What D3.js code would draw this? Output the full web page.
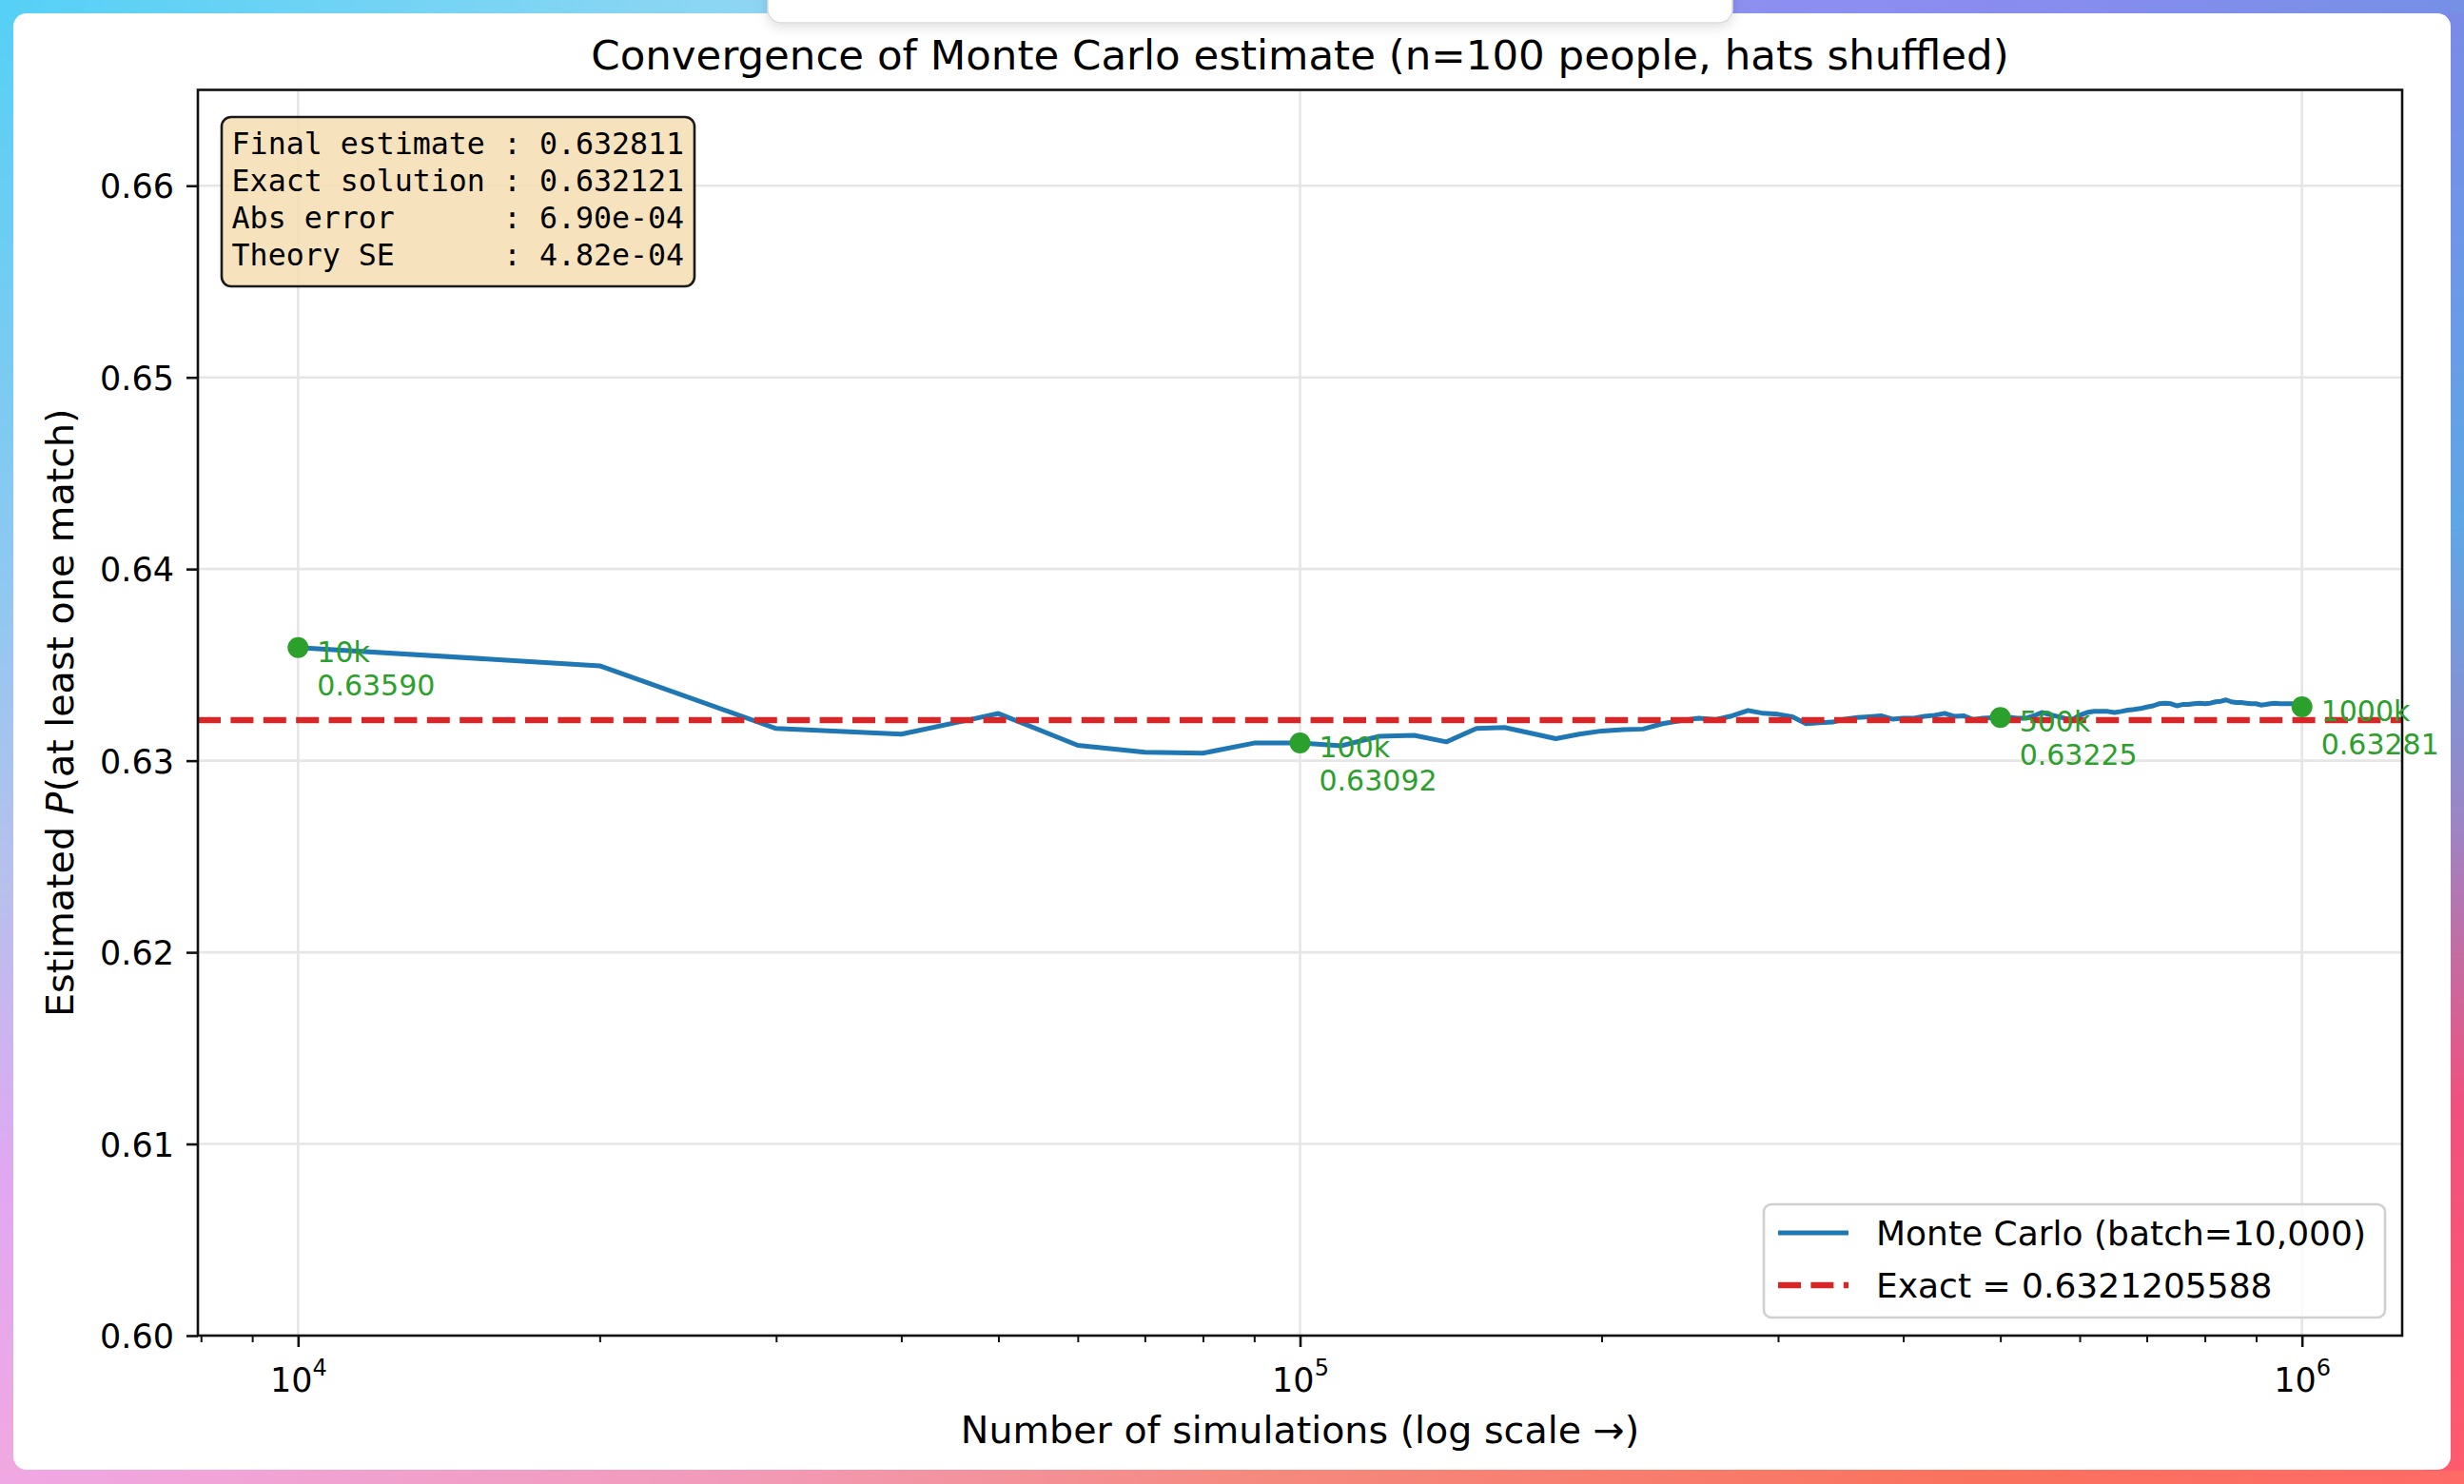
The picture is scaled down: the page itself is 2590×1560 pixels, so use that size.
<!DOCTYPE html>
<html lang="en">
<head>
<meta charset="utf-8">
<title>Convergence of Monte Carlo estimate</title>
<script src="https://cdn.jsdelivr.net/npm/d3@7"></script>
<style>
  html, body { margin: 0; padding: 0; background: #fff; }
  svg { display: block; }
  text { font-family: "DejaVu Sans", sans-serif; fill: #000; }
  .mono { font-family: "DejaVu Sans Mono", monospace; white-space: pre; }
</style>
</head>
<body>
<script>
// ---- data ----
const batchSize = 10000;
const estimates = [
  0.63590, 0.63495, 0.63168, 0.63138, 0.63246, 0.63080, 0.63044, 0.63039, 0.63092, 0.63092,
  0.63078, 0.63127, 0.63132, 0.63098, 0.63168, 0.63173, 0.63143, 0.63115, 0.63138, 0.63155,
  0.63162, 0.63165, 0.63193, 0.63209, 0.63221, 0.63214, 0.63234, 0.63262, 0.63247, 0.63242,
  0.63229, 0.63193, 0.63198, 0.63201, 0.63217, 0.63225, 0.63229, 0.63234, 0.63217, 0.63222,
  0.63222, 0.63231, 0.63237, 0.63247, 0.63231, 0.63234, 0.63214, 0.63221, 0.63224, 0.63225,
  0.63227, 0.63221, 0.63221, 0.63234, 0.63251, 0.63241, 0.63231, 0.63221, 0.63214, 0.63237,
  0.63251, 0.63257, 0.63257, 0.63257, 0.63251, 0.63257, 0.63264, 0.63267, 0.63272, 0.63280,
  0.63286, 0.63297, 0.63300, 0.63297, 0.63286, 0.63293, 0.63293, 0.63297, 0.63300, 0.63297,
  0.63300, 0.63307, 0.63310, 0.63317, 0.63307, 0.63303, 0.63303, 0.63300, 0.63297, 0.63297,
  0.63290, 0.63293, 0.63297, 0.63300, 0.63297, 0.63297, 0.63297, 0.63297, 0.63293, 0.63281
];
const exactValue = 0.6321205588;
const checkpoints = [10000, 100000, 500000, 1000000];
const checkpointNames = ["10k", "100k", "500k", "1000k"];
const yTicks = [0.60, 0.61, 0.62, 0.63, 0.64, 0.65, 0.66];
const xMajorTicks = [1e4, 1e5, 1e6];
const xMinorTicks = [8000, 9000,
  20000, 30000, 40000, 50000, 60000, 70000, 80000, 90000,
  200000, 300000, 400000, 500000, 600000, 700000, 800000, 900000];
const infoLines = [
  "Final estimate : 0.632811",
  "Exact solution : 0.632121",
  "Abs error      : 6.90e-04",
  "Theory SE      : 4.82e-04"
];
const legendLabels = ["Monte Carlo (batch=10,000)", "Exact = 0.6321205588"];
const titleText = "Convergence of Monte Carlo estimate (n=100 people, hats shuffled)";
const xLabelText = "Number of simulations (log scale \u2192)";

const samples = estimates.map((v, i) => ({n: (i + 1) * batchSize, v: v}));

// ---- page frame ----
const W = 2590, H = 1560;
const svg = d3.select("body").append("svg").attr("width", W).attr("height", H);
const defs = svg.append("defs");

function gradient(id, vertical, stops) {
  const g = defs.append("linearGradient").attr("id", id)
      .attr("x1", 0).attr("y1", 0)
      .attr("x2", vertical ? 0 : 1).attr("y2", vertical ? 1 : 0);
  stops.forEach(s => g.append("stop").attr("offset", s[0]).attr("stop-color", s[1]));
}
gradient("gTop", false, [[0, "#56d0f6"], [0.3, "#8dd6f3"], [0.45, "#86b4f5"], [0.55, "#9496f2"], [0.8, "#8a8cef"], [1, "#7690e6"]]);
gradient("gBottom", false, [[0, "#f0a8e4"], [0.3, "#f29ab8"], [0.5, "#f58a80"], [0.8, "#fa725e"], [1, "#ff6a66"]]);
gradient("gLeft", true, [[0, "#56d0f6"], [0.4, "#90c8f0"], [0.6, "#b8c0ec"], [0.8, "#e0a8f2"], [1, "#f0a8e0"]]);
gradient("gRight", true, [[0, "#7a8ae6"], [0.35, "#5ea6e6"], [0.55, "#9a86c6"], [0.75, "#f0507e"], [1, "#ff5a6c"]]);

svg.append("rect").attr("width", W).attr("height", 40).attr("fill", "url(#gTop)");
svg.append("rect").attr("y", H - 40).attr("width", W).attr("height", 40).attr("fill", "url(#gBottom)");
svg.append("rect").attr("y", 14).attr("width", 40).attr("height", H - 28).attr("fill", "url(#gLeft)");
svg.append("rect").attr("x", W - 40).attr("y", 14).attr("width", 40).attr("height", H - 28).attr("fill", "url(#gRight)");

svg.append("rect").attr("x", 14).attr("y", 14).attr("width", 2562).attr("height", 1531)
    .attr("rx", 14).attr("fill", "#fff");

const shadow = defs.append("filter").attr("id", "shadow")
    .attr("x", "-10%").attr("y", "-50%").attr("width", "120%").attr("height", "300%");
shadow.append("feDropShadow").attr("dx", 0).attr("dy", 4).attr("stdDeviation", 6)
    .attr("flood-color", "#000").attr("flood-opacity", 0.12);
svg.append("rect").attr("x", 807).attr("y", -20).attr("width", 1014).attr("height", 44)
    .attr("rx", 14).attr("fill", "#fff").attr("stroke", "#dcdcdc").attr("stroke-width", 1.5)
    .attr("filter", "url(#shadow)");

// ---- axes ----
const M = {left: 208, right: 2525, top: 94.5, bottom: 1404};
const x = d3.scaleLog().domain([Math.pow(10, 3.9), Math.pow(10, 6.1)]).range([M.left, M.right]);
const y = d3.scaleLinear().domain([0.600, 0.665]).range([M.bottom, M.top]);

defs.append("clipPath").attr("id", "plotClip").append("rect")
    .attr("x", M.left).attr("y", M.top)
    .attr("width", M.right - M.left).attr("height", M.bottom - M.top);

// grid
const grid = svg.append("g").attr("stroke", "#e6e6e6").attr("stroke-width", 2.6);
grid.selectAll(".gx").data(xMajorTicks).join("line")
    .attr("x1", d => x(d)).attr("x2", d => x(d)).attr("y1", M.top).attr("y2", M.bottom);
grid.selectAll(".gy").data(yTicks).join("line")
    .attr("x1", M.left).attr("x2", M.right).attr("y1", d => y(d)).attr("y2", d => y(d));

const plot = svg.append("g").attr("clip-path", "url(#plotClip)");

// Monte Carlo running estimate
plot.append("path").datum(samples)
    .attr("fill", "none").attr("stroke", "#1f77b4").attr("stroke-width", 5)
    .attr("stroke-linejoin", "round")
    .attr("d", d3.line().x(d => x(d.n)).y(d => y(d.v)));

// exact value
plot.append("line")
    .attr("x1", M.left).attr("x2", M.right)
    .attr("y1", y(exactValue)).attr("y2", y(exactValue))
    .attr("stroke", "#d62728").attr("stroke-width", 6.5).attr("stroke-dasharray", "24 10.4");

// checkpoint markers
const marks = samples.filter(d => checkpoints.includes(d.n));
svg.append("g").selectAll("circle").data(marks).join("circle")
    .attr("cx", d => x(d.n)).attr("cy", d => y(d.v)).attr("r", 11).attr("fill", "#2ca02c");

// spines
svg.append("rect").attr("x", M.left).attr("y", M.top)
    .attr("width", M.right - M.left).attr("height", M.bottom - M.top)
    .attr("fill", "none").attr("stroke", "#111").attr("stroke-width", 2.6);

// checkpoint annotations
const ann = svg.append("g").style("font-size", "30px");
marks.forEach(d => {
  const t = ann.append("text").style("fill", "#2ca02c")
      .attr("transform", `translate(${x(d.n) + 20},${y(d.v)})`);
  t.append("tspan").attr("x", 0).attr("y", 15)
      .text(checkpointNames[checkpoints.indexOf(d.n)]);
  t.append("tspan").attr("x", 0).attr("y", 50).text(d3.format(".5f")(d.v));
});

// y axis
const yAxis = svg.append("g").attr("transform", `translate(${M.left},0)`)
    .call(d3.axisLeft(y).tickValues(yTicks).tickSize(12).tickPadding(13).tickFormat(d3.format(".2f")));
yAxis.select(".domain").remove();
yAxis.attr("font-size", null).attr("font-family", null);
yAxis.selectAll(".tick line").attr("stroke", "#111").attr("stroke-width", 2.6);
yAxis.selectAll(".tick text").style("font-size", "35px").attr("dy", "0.36em");

// x axis: minor ticks
const xMinor = svg.append("g").attr("transform", `translate(0,${M.bottom})`)
    .call(d3.axisBottom(x).tickValues(xMinorTicks).tickSize(7).tickFormat(() => ""));
xMinor.select(".domain").remove();
xMinor.selectAll(".tick line").attr("stroke", "#111").attr("stroke-width", 2);

// x axis: major ticks with 10^k labels
const xAxis = svg.append("g").attr("transform", `translate(0,${M.bottom})`)
    .call(d3.axisBottom(x).tickValues(xMajorTicks).tickSize(12).tickFormat(() => ""));
xAxis.select(".domain").remove();
xAxis.attr("font-size", null).attr("font-family", null);
xAxis.selectAll(".tick line").attr("stroke", "#111").attr("stroke-width", 2.6);
xAxis.selectAll(".tick text").each(function(d) {
  const t = d3.select(this).text(null).attr("y", 59).attr("dy", null).style("font-size", "35px");
  t.append("tspan").text("10");
  t.append("tspan").attr("dy", -17).style("font-size", "24px").text(Math.round(Math.log10(d)));
});

// titles
svg.append("text").attr("x", (M.left + M.right) / 2).attr("y", 73)
    .attr("text-anchor", "middle").style("font-size", "43.5px").text(titleText);
svg.append("text").attr("x", (M.left + M.right) / 2).attr("y", 1517)
    .attr("text-anchor", "middle").style("font-size", "39.6px").text(xLabelText);
const yl = svg.append("text")
    .attr("transform", `translate(77,${(M.top + M.bottom) / 2}) rotate(-90)`)
    .attr("text-anchor", "middle").style("font-size", "39.6px");
yl.append("tspan").text("Estimated ");
yl.append("tspan").style("font-style", "italic").text("P");
yl.append("tspan").text("(at least one match)");

// info box
const info = svg.append("g");
info.append("rect").attr("x", 233).attr("y", 123).attr("width", 497).attr("height", 178)
    .attr("rx", 10).attr("fill", "#f5deb3").attr("fill-opacity", 0.85)
    .attr("stroke", "#1a1a1a").attr("stroke-width", 2.6);
info.selectAll("text").data(infoLines).join("text")
    .attr("class", "mono").attr("xml:space", "preserve")
    .attr("x", 243.6).attr("y", (d, i) => 162 + i * 38.9)
    .style("font-size", "31.6px").text(d => d);

// legend
const lg = svg.append("g");
lg.append("rect").attr("x", 1854).attr("y", 1266).attr("width", 653).attr("height", 119)
    .attr("rx", 8).attr("fill", "#fff").attr("fill-opacity", 0.8)
    .attr("stroke", "#d0d0d0").attr("stroke-width", 2.6);
const legendStyles = [
  {color: "#1f77b4", width: 5, dash: null},
  {color: "#d62728", width: 6.5, dash: "24 10.4"}
];
legendLabels.forEach((label, i) => {
  const cy = 1296 + i * 55;
  lg.append("line").attr("x1", 1869).attr("x2", 1943).attr("y1", cy).attr("y2", cy)
      .attr("stroke", legendStyles[i].color).attr("stroke-width", legendStyles[i].width)
      .attr("stroke-dasharray", legendStyles[i].dash);
  lg.append("text").attr("x", 1972).attr("y", cy).attr("dy", "0.36em")
      .style("font-size", "36px").text(label);
});
</script>
</body>
</html>
